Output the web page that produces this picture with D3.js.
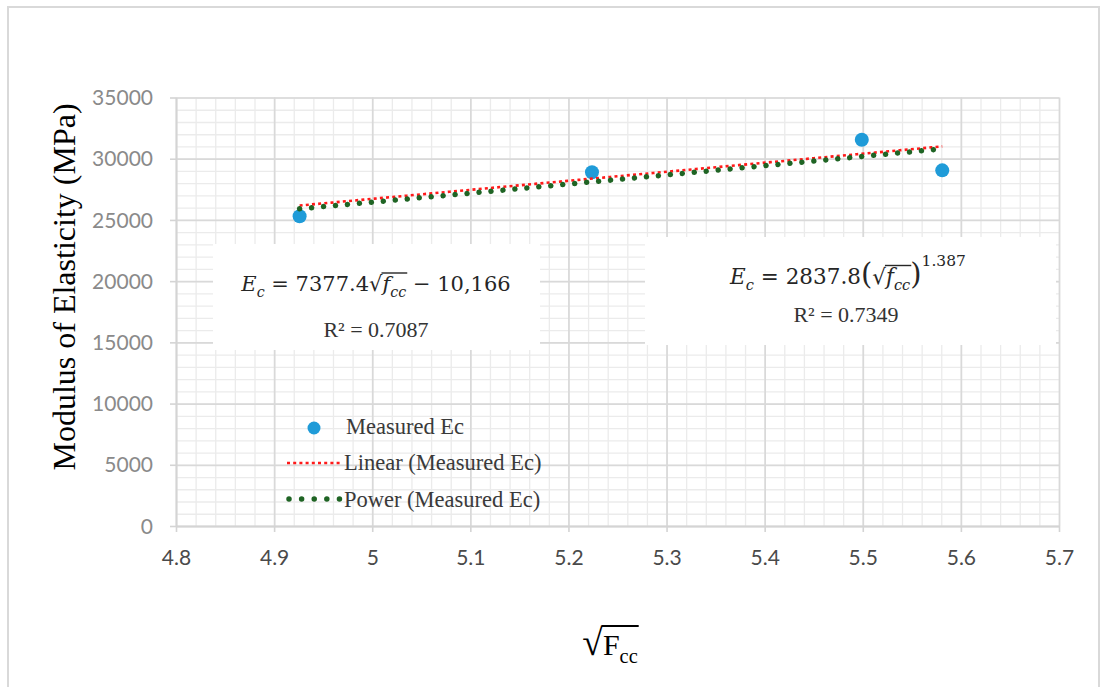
<!DOCTYPE html>
<html>
<head>
<meta charset="utf-8">
<script src="https://cdn.jsdelivr.net/npm/d3@7"></script>
<style>
  body { margin: 0; background: #ffffff; }
  text { white-space: pre; }
</style>
</head>
<body>
<svg id="chart" width="1107" height="687"></svg>
<script>
// Measured modulus of elasticity against the square root of compressive strength
const sqrtFcc = [4.926, 5.224, 5.499, 5.581];
const measuredEc = [25300, 28900, 31550, 29050];

// Trendline fits (coefficients as printed in the equation boxes)
const linearCoef = [7377.4, -10166];   // Ec = a*x + b
const powerCoef = [2837.8, 1.387];     // Ec = a*x^b
const rSquared = ["0.7087", "0.7349"];

// Axis ticks
const xTicks = [4.8, 4.9, 5.0, 5.1, 5.2, 5.3, 5.4, 5.5, 5.6, 5.7];
const xTickLabels = ["4.8", "4.9", "5", "5.1", "5.2", "5.3", "5.4", "5.5", "5.6", "5.7"];
const yTicks = [0, 5000, 10000, 15000, 20000, 25000, 30000, 35000];
const yTickLabels = ["0", "5000", "10000", "15000", "20000", "25000", "30000", "35000"];

const legendLabels = ["Measured Ec", "Linear (Measured Ec)", "Power (Measured Ec)"];

const svg = d3.select("#chart");
const serif = "'Liberation Serif', 'Times New Roman', serif";
const mathSerif = "'DejaVu Serif', serif";
const sans = "Lato, 'Open Sans', sans-serif";

// outer frame
svg.append("rect")
  .attr("x", 8).attr("y", 7).attr("width", 1091).attr("height", 700)
  .attr("fill", "none").attr("stroke", "#d9d9d9").attr("stroke-width", 2);

const x = d3.scaleLinear().domain([4.8, 5.7]).range([176, 1059]);
const y = d3.scaleLinear().domain([0, 35000]).range([526, 97.5]);
const plotH = y(0) - y(35000);
const plotW = x(5.7) - x(4.8);

// minor / major gridlines
const minorX = d3.range(0, 46).map(i => 4.8 + i * 0.02);
const minorY = d3.range(0, 36).map(i => i * 1000);

function gridV(values, color, width) {
  svg.append("g")
    .attr("transform", `translate(0,${y(0)})`)
    .call(d3.axisBottom(x).tickValues(values).tickSize(-plotH).tickFormat(""))
    .call(g => {
      g.select(".domain").remove();
      g.selectAll("line").attr("stroke", color).attr("stroke-width", width);
    });
}
function gridH(values, color, width) {
  svg.append("g")
    .attr("transform", `translate(${x(4.8)},0)`)
    .call(d3.axisLeft(y).tickValues(values).tickSize(-plotW).tickFormat(""))
    .call(g => {
      g.select(".domain").remove();
      g.selectAll("line").attr("stroke", color).attr("stroke-width", width);
    });
}
gridV(minorX, "#ebebeb", 1.3);
gridH(minorY, "#ebebeb", 1.3);
gridV(xTicks, "#d9d9d9", 1.7);
gridH(yTicks, "#d9d9d9", 1.7);

// axes with tick marks and labels
svg.append("g")
  .attr("transform", `translate(0,${y(0)})`)
  .call(d3.axisBottom(x).tickValues(xTicks).tickSize(6).tickSizeOuter(0)
    .tickFormat((d, i) => xTickLabels[i]))
  .call(g => {
    g.select(".domain").attr("stroke", "#d4d4d4").attr("stroke-width", 1.8);
    g.selectAll("line").attr("stroke", "#d4d4d4").attr("stroke-width", 1.6);
    g.selectAll("text").attr("y", 39).attr("dy", 0)
      .attr("font-family", sans).attr("font-size", 21).attr("fill", "#4a4a4a");
  });

svg.append("g")
  .attr("transform", `translate(${x(4.8)},0)`)
  .call(d3.axisLeft(y).tickValues(yTicks).tickSize(6).tickSizeOuter(0).tickPadding(17)
    .tickFormat((d, i) => yTickLabels[i]))
  .call(g => {
    g.select(".domain").attr("stroke", "#d4d4d4").attr("stroke-width", 1.8);
    g.selectAll("line").attr("stroke", "#d4d4d4").attr("stroke-width", 1.6);
    g.selectAll("text").attr("dy", "0.34em")
      .attr("font-family", sans).attr("font-size", 21).attr("fill", "#8a8a8a");
  });

// measured points
const pts = sqrtFcc.map((v, i) => ({ x: v, y: measuredEc[i] }));
svg.append("g").selectAll("circle").data(pts).join("circle")
  .attr("cx", d => x(d.x)).attr("cy", d => y(d.y)).attr("r", 7)
  .attr("fill", "#1f9bd8");

// trendlines over the measured range
const [x0, x1] = d3.extent(sqrtFcc);
const samples = d3.range(0, 61).map(i => x0 + (x1 - x0) * i / 60);
const linearFn = v => linearCoef[0] * v + linearCoef[1];
const powerFn = v => powerCoef[0] * Math.pow(v, powerCoef[1]);
const line = fn => d3.line().x(v => x(v)).y(v => y(fn(v)));

svg.append("path").datum(samples).attr("d", line(linearFn))
  .attr("fill", "none").attr("stroke", "#ff1a1a").attr("stroke-width", 2.6)
  .attr("stroke-dasharray", "3,3.2");
svg.append("path").datum(samples).attr("d", line(powerFn))
  .attr("fill", "none").attr("stroke", "#1f6424").attr("stroke-width", 5.5)
  .attr("stroke-linecap", "round").attr("stroke-dasharray", "0.01,12");

// text with sub/superscripts and a radical vinculum
function mathLine(parent, cx, baseline, size, family, segs, color, vinc) {
  const t = parent.append("text")
    .attr("x", cx).attr("y", baseline).attr("text-anchor", "middle")
    .attr("font-family", family).attr("font-size", size).attr("fill", color);
  let shift = 0, idx = 0, radSign = -1;
  const radIdx = [];
  segs.forEach(s => {
    const fs = s.sub ? size * 0.68 : s.sup ? size * 0.72 : size * (s.scale || 1);
    const target = s.sub ? size * 0.28 : s.sup ? -size * 0.85 : 0;
    const ts = t.append("tspan").text(s.t).attr("font-size", fs).attr("dy", target - shift);
    if (s.italic) ts.attr("font-style", "italic");
    shift = target;
    if (s.rad) for (let k = 0; k < s.t.length; k++) radIdx.push(idx + k);
    if (s.t === "√") radSign = idx;
    idx += s.t.length;
  });
  if (radSign >= 0 && radIdx.length) {
    const n = t.node();
    const xa = n.getEndPositionOfChar(radSign).x - vinc.inset;
    const xb = n.getEndPositionOfChar(radIdx[radIdx.length - 1]).x + 1;
    parent.append("line")
      .attr("x1", xa).attr("x2", xb)
      .attr("y1", baseline - vinc.rise).attr("y2", baseline - vinc.rise)
      .attr("stroke", color).attr("stroke-width", vinc.w);
  }
  return t;
}

// equation boxes
const boxes = svg.append("g");
boxes.append("rect").attr("x", 213).attr("y", 244).attr("width", 327).attr("height", 106).attr("fill", "#fff");
boxes.append("rect").attr("x", 645).attr("y", 237).attr("width", 411).attr("height", 108).attr("fill", "#fff");

const eqColor = "#262626";
mathLine(boxes, 376, 291, 21, mathSerif, [
  { t: "E", italic: true }, { t: "c", italic: true, sub: true },
  { t: " = 7377.4" }, { t: "√" },
  { t: "f", italic: true, rad: true }, { t: "cc", italic: true, sub: true, rad: true },
  { t: " − 10,166" }
], eqColor, { inset: 1, rise: 18, w: 1.4 });
mathLine(boxes, 376, 337, 22, serif, [{ t: "R² = " + rSquared[0] }], "#333333");

mathLine(boxes, 848, 284, 21.5, mathSerif, [
  { t: "E", italic: true }, { t: "c", italic: true, sub: true },
  { t: " = 2837.8" }, { t: "(", scale: 1.35 }, { t: "√" },
  { t: "f", italic: true, rad: true }, { t: "cc", italic: true, sub: true, rad: true },
  { t: ")", scale: 1.35 }, { t: "1.387", sup: true }
], eqColor, { inset: 1, rise: 18.5, w: 1.4 });
mathLine(boxes, 846, 322, 22, serif, [{ t: "R² = " + rSquared[1] }], "#333333");

// legend
const lg = svg.append("g").attr("font-family", serif).attr("font-size", 22.5).attr("fill", "#3a3a3a");
lg.append("circle").attr("cx", 314).attr("cy", 428).attr("r", 6.5).attr("fill", "#1f9bd8");
lg.append("text").attr("x", 346).attr("y", 434).text(legendLabels[0]);
lg.append("line").attr("x1", 287).attr("x2", 340).attr("y1", 463).attr("y2", 463)
  .attr("stroke", "#ff1a1a").attr("stroke-width", 2.6).attr("stroke-dasharray", "3,3.2");
lg.append("text").attr("x", 344).attr("y", 470).text(legendLabels[1]);
lg.append("line").attr("x1", 289).attr("x2", 340).attr("y1", 499).attr("y2", 499)
  .attr("stroke", "#1f6424").attr("stroke-width", 5.5).attr("stroke-linecap", "round")
  .attr("stroke-dasharray", "0.01,12.6");
lg.append("text").attr("x", 344).attr("y", 507).text(legendLabels[2]);

// axis titles
svg.append("text")
  .attr("transform", "translate(75,287) rotate(-90)")
  .attr("text-anchor", "middle")
  .attr("font-family", serif).attr("font-size", 32).attr("fill", "#000")
  .text("Modulus of Elasticity (MPa)");

mathLine(svg, 610, 655, 30, serif, [
  { t: "√", scale: 1.25 }, { t: "F", rad: true }, { t: "cc", sub: true, rad: true }
], "#000", { inset: 1, rise: 29, w: 2 });
</script>
</body>
</html>
